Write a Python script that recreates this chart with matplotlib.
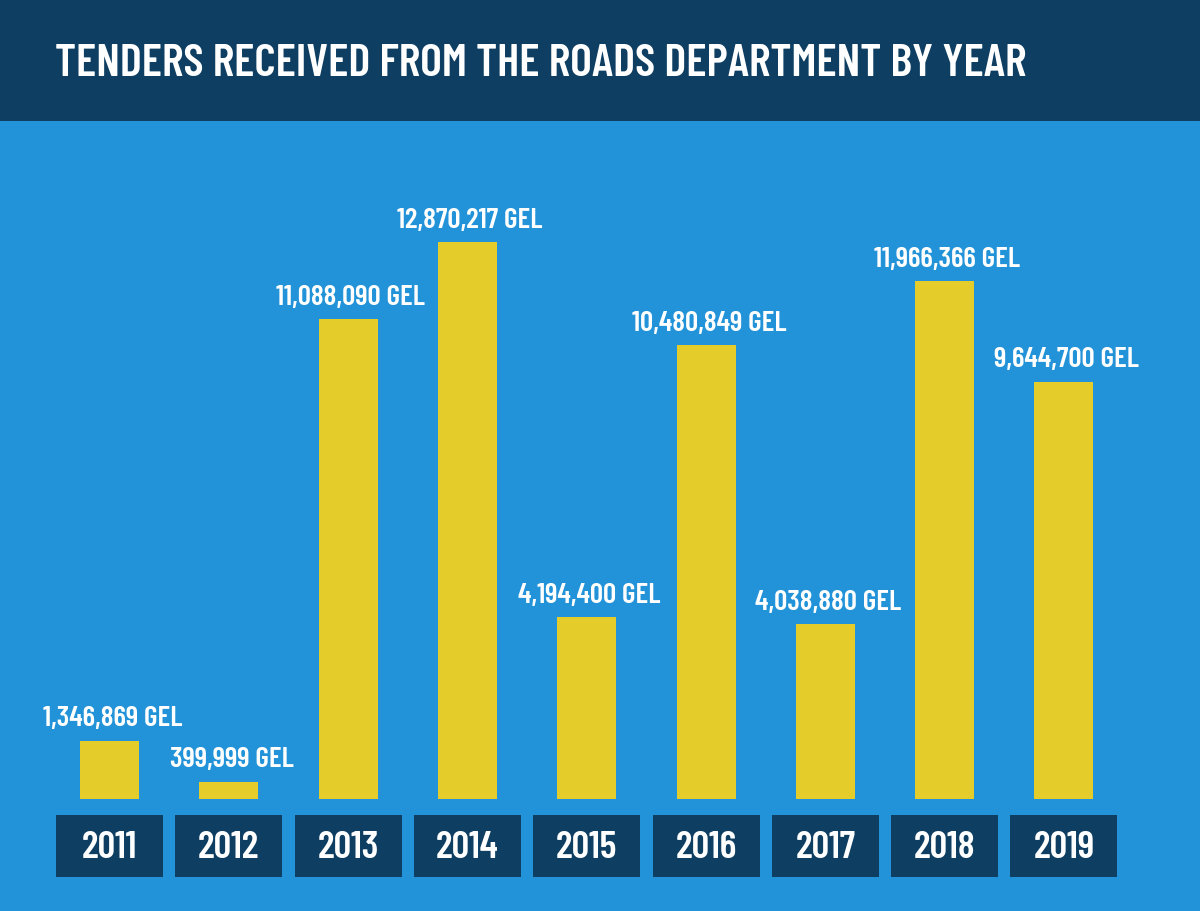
import matplotlib
matplotlib.use("Agg")
import matplotlib.pyplot as plt
from matplotlib.patches import Rectangle

years = ["2011", "2012", "2013", "2014", "2015", "2016", "2017", "2018", "2019"]
values = [1346869, 399999, 11088090, 12870217, 4194400, 10480849, 4038880, 11966366, 9644700]
value_labels = ["1,346,869 GEL", "399,999 GEL", "11,088,090 GEL", "12,870,217 GEL", "4,194,400 GEL",
                "10,480,849 GEL", "4,038,880 GEL", "11,966,366 GEL", "9,644,700 GEL"]
title = "TENDERS RECEIVED FROM THE ROADS DEPARTMENT BY YEAR"

fam = ["Barlow Condensed", "Bebas Neue", "DejaVu Sans"]

NAVY = "#0e3f62"
BLUE = "#2293d8"
YELLOW = "#e4cd2a"

W, H = 1200, 912
fig = plt.figure(figsize=(W / 100, H / 100), dpi=100)
fig.patch.set_facecolor(BLUE)

# title band
fig.patches.append(Rectangle((0, 1 - 122 / H), 1, 122 / H, transform=fig.transFigure,
                             facecolor=NAVY, edgecolor="none", zorder=0))
fig.text(55 / W, 1 - 76 / H, title, color="white", fontsize=33.5, fontweight="semibold",
         family=fam, ha="left", va="baseline")

# axes: baseline at y=800px, top at 122px
bottom_px = H - 800
top_px = H - 122
ax = fig.add_axes([0, bottom_px / H, 1, (top_px - bottom_px) / H])
ax.set_facecolor("none")
spacing = 119.3
c0 = 109.5
ax.set_xlim(-c0 / spacing, (W - c0) / spacing)
px_per_unit = 557 / 12870217
ax.set_ylim(0, (top_px - bottom_px) / px_per_unit)
ax.axis("off")

x = list(range(len(years)))
ax.bar(x, values, width=59 / spacing, color=YELLOW, edgecolor="none", zorder=2)

for xi, v, lab in zip(x, values, value_labels):
    ax.annotate(lab, (xi, v), xytext=(2, 11), textcoords="offset points",
                ha="center", va="baseline", color="white", fontsize=21,
                fontweight="semibold", family=fam)

# year boxes
bw = 107 / spacing
for xi, yr in zip(x, years):
    y0 = -78 / px_per_unit
    h = 62 / px_per_unit
    ax.add_patch(Rectangle((xi - bw / 2, y0), bw, h, facecolor=NAVY, edgecolor="none",
                           clip_on=False, zorder=2))
    ax.text(xi, -58 / px_per_unit, yr, ha="center", va="baseline", color="white", fontsize=28,
            fontweight="semibold", family=fam, zorder=3, clip_on=False)

fig.savefig("out.png", dpi=100, facecolor=fig.get_facecolor())
